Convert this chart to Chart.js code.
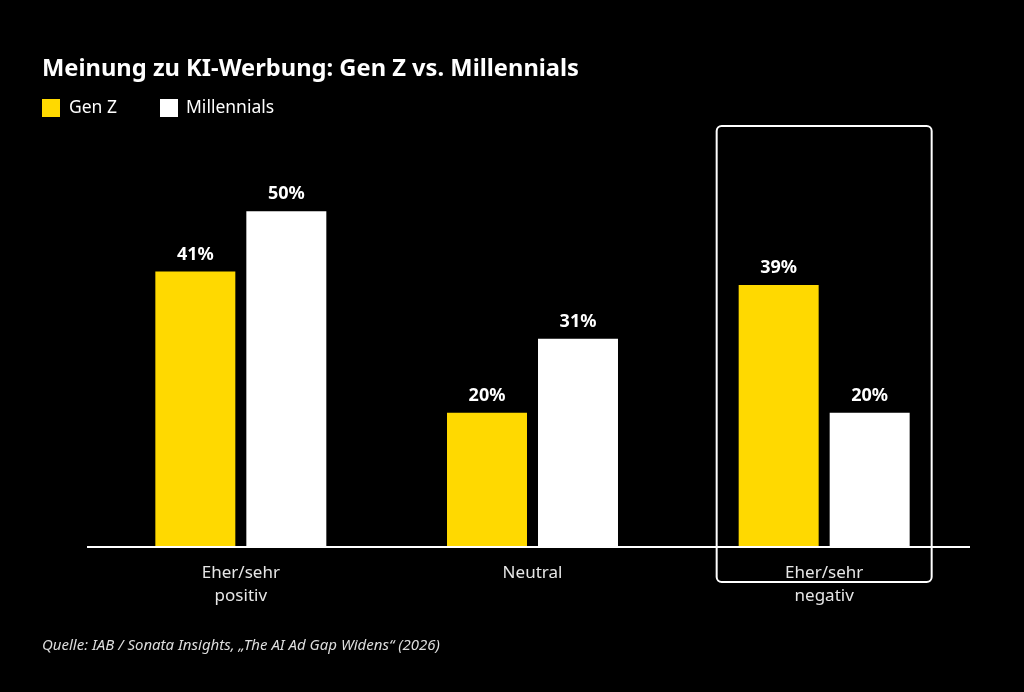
<!DOCTYPE html>
<html>
<head>
<meta charset="utf-8">
<script src="https://cdn.jsdelivr.net/npm/chart.js@4"></script>
<style>
  html, body { margin: 0; padding: 0; background: #000; }
  #wrap { width: 1024px; height: 692px; position: relative; }
</style>
</head>
<body>
<div id="wrap"><canvas id="chart-main"></canvas></div>
<script>
const categories = [["Eher/sehr", "positiv"], "Neutral", ["Eher/sehr", "negativ"]];
const genZ = [41, 20, 39];
const millennials = [50, 31, 20];
const seriesNames = ["Gen Z", "Millennials"];
const highlightIndex = 2;

const titleText = "Meinung zu KI-Werbung: Gen Z vs. Millennials";
const sourceText = "Quelle: IAB / Sonata Insights, \u201EThe AI Ad Gap Widens\u201C (2026)";

const yellow = "#FFD900";
const white = "#FFFFFF";
const mainFont = "'Noto Sans', 'Open Sans', sans-serif";

// title, legend, source, baseline, highlight box and value labels
const decorPlugin = {
    id: "decor",
    beforeDraw(chart) {
        const ctx = chart.ctx;
        ctx.save();
        ctx.fillStyle = "#000";
        ctx.fillRect(0, 0, chart.width, chart.height);
        ctx.restore();
    },
    afterDatasetsDraw(chart) {
        const ctx = chart.ctx;
        const area = chart.chartArea;
        const x = chart.scales.x;
        ctx.save();

        // title
        ctx.fillStyle = white;
        ctx.textBaseline = "middle";
        ctx.textAlign = "left";
        ctx.font = "bold 23.7px " + mainFont;
        ctx.fillText(titleText, 42, 69);

        // legend
        ctx.font = "17.5px " + mainFont;
        ctx.fillStyle = yellow;
        ctx.fillRect(42, 99, 18, 18);
        ctx.fillStyle = white;
        ctx.fillText(seriesNames[0], 69, 108);
        ctx.fillRect(160, 99, 18, 18);
        ctx.fillText(seriesNames[1], 186, 108);

        // baseline
        ctx.strokeStyle = white;
        ctx.lineWidth = 2;
        ctx.beginPath();
        ctx.moveTo(87, area.bottom);
        ctx.lineTo(970, area.bottom);
        ctx.stroke();

        // highlight box
        const cx = x.getPixelForValue(highlightIndex);
        ctx.lineWidth = 2;
        ctx.beginPath();
        ctx.roundRect(cx - 107.5, 126, 215, 456, 5);
        ctx.stroke();

        // value labels
        ctx.font = "bold 18px " + mainFont;
        ctx.textAlign = "center";
        ctx.fillStyle = white;
        chart.data.datasets.forEach((ds, i) => {
            chart.getDatasetMeta(i).data.forEach((bar, j) => {
                ctx.fillText(ds.data[j] + "%", bar.x, bar.y - 17);
            });
        });

        // source
        ctx.textAlign = "left";
        ctx.font = "italic 15px " + mainFont;
        ctx.fillStyle = "#dddddd";
        ctx.fillText(sourceText, 42, 646);
        ctx.restore();
    }
};

const myChart = new Chart(document.getElementById("chart-main"), {
    type: "bar",
    data: {
        labels: categories,
        datasets: [
            { label: seriesNames[0], data: genZ, backgroundColor: yellow },
            { label: seriesNames[1], data: millennials, backgroundColor: white }
        ]
    },
    options: {
        responsive: true,
        maintainAspectRatio: false,
        animation: false,
        categoryPercentage: 0.624,
        barPercentage: 0.879,
        layout: { padding: { left: 95, right: 54, top: 144, bottom: 75 } },
        plugins: {
            legend: { display: false },
            tooltip: { enabled: false }
        },
        scales: {
            x: {
                grid: { display: false },
                border: { display: false },
                ticks: {
                    color: "#e6e6e6",
                    padding: 7,
                    font: { family: mainFont, size: 17, lineHeight: 1.35 }
                },
                afterFit(scale) { scale.height = 70; }
            },
            y: {
                display: false,
                min: 0,
                max: 60
            }
        }
    },
    plugins: [decorPlugin]
});
</script>
</body>
</html>
